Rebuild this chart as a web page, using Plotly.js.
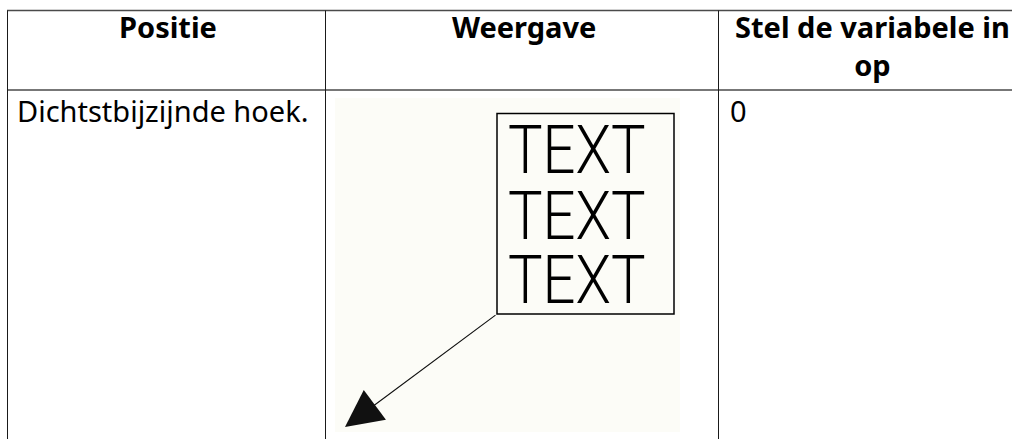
<!DOCTYPE html>
<html>
<head>
<meta charset="utf-8">
<script src="https://cdn.plot.ly/plotly-3.0.1.min.js"></script>
<style>
  html, body { margin: 0; padding: 0; overflow: hidden; background: #ffffff; }
  #chart { width: 1012px; height: 439px; }
</style>
</head>
<body>
<div id="chart"></div>
<script>
// ---- data ----
const headerLabels = ['Positie', 'Weergave', 'Stel de variabele in<br>op'];
const positionCol = ['Dichtstbijzijnde hoek.'];
const valueCol = ['0'];
const boxLines = ['TEXT', 'TEXT', 'TEXT'];

// ---- layout geometry (page pixels) ----
const W = 1012, H = 439;
const colEdges = [7, 325, 718, 1026];
const tableTop = 10.5, headerBottom = 90;
const textFont = 'Noto Sans';
const textSize = 29;

const shapes = [];
// image background inside the "Weergave" cell
shapes.push({ type: 'rect', xref: 'x', yref: 'y', layer: 'below',
  x0: 335, x1: 680, y0: 98, y1: 432,
  fillcolor: '#fcfcf7', line: { width: 0 } });
// frame around the text block
shapes.push({ type: 'rect', xref: 'x', yref: 'y', layer: 'above',
  x0: 497, x1: 674, y0: 113.5, y1: 314,
  fillcolor: 'rgba(0,0,0,0)', line: { color: '#000000', width: 1.5 } });
// table rules
[tableTop, headerBottom].forEach(yy => shapes.push({
  type: 'line', xref: 'x', yref: 'y', x0: colEdges[0], x1: W + 20, y0: yy, y1: yy,
  line: { color: '#4a4a4a', width: 1.5 } }));
colEdges.slice(0, 3).forEach(xe => shapes.push({
  type: 'line', xref: 'x', yref: 'y', x0: xe + 0.5, x1: xe + 0.5, y0: tableTop, y1: H + 20,
  line: { color: '#1a1a1a', width: 1 } }));

const annotations = [];
// text block in the illustration (condensed via CSS below)
const boxTops = [109, 175, 239];
boxLines.forEach((t, i) => annotations.push({
  text: t, xref: 'x', yref: 'y',
  x: 505.5, y: boxTops[i], xanchor: 'left', yanchor: 'top',
  showarrow: false,
  font: { family: 'Roboto', size: 67, weight: 300, color: '#000000' }
}));
// header labels, centred in their columns, top aligned
headerLabels.forEach((label, i) => {
  const cx = (colEdges[i] + colEdges[i + 1]) / 2 + (i < 2 ? 2 : 0);
  annotations.push({
    text: label, xref: 'x', yref: 'y',
    x: cx, y: 5, xanchor: 'center', yanchor: 'top', align: 'center',
    showarrow: false,
    font: { family: textFont, size: textSize, weight: 700, color: '#000000' }
  });
});
// body cells
positionCol.forEach(v => annotations.push({
  text: v, xref: 'x', yref: 'y',
  x: colEdges[0] + 7.5, y: 89, xanchor: 'left', yanchor: 'top',
  showarrow: false,
  font: { family: textFont, size: textSize, color: '#000000' }
}));
valueCol.forEach(v => annotations.push({
  text: v, xref: 'x', yref: 'y',
  x: colEdges[2] + 9.5, y: 89, xanchor: 'left', yanchor: 'top',
  showarrow: false,
  font: { family: textFont, size: textSize, color: '#000000' }
}));
// leader arrow from the frame corner
annotations.push({
  text: '', xref: 'x', yref: 'y',
  x: 345, y: 427, axref: 'x', ayref: 'y', ax: 497, ay: 314,
  showarrow: true, arrowhead: 2, arrowsize: 6.2, arrowwidth: 1.2,
  arrowcolor: '#111111', standoff: 0
});

// narrow the illustration's lettering (keeps it as real text)
const css = boxLines.map((_, i) =>
  '#chart .annotation[data-index="' + i + '"] text.annotation-text').join(',\n') +
  ' { transform-box: fill-box; transform-origin: 0% 50%; transform: scaleX(0.865); }';
const st = document.createElement('style');
st.textContent = css;
document.head.appendChild(st);

const layout = {
  width: W, height: H,
  margin: { l: 0, r: 0, t: 0, b: 0, pad: 0 },
  paper_bgcolor: '#ffffff', plot_bgcolor: '#ffffff',
  showlegend: false,
  xaxis: { range: [0, W], visible: false, fixedrange: true },
  yaxis: { range: [H, 0], visible: false, fixedrange: true },
  shapes: shapes,
  annotations: annotations
};

Plotly.newPlot('chart', [], layout, { displayModeBar: false, staticPlot: true });
</script>
</body>
</html>
